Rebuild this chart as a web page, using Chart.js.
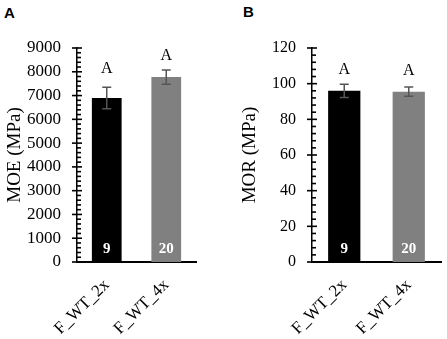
<!DOCTYPE html>
<html>
<head>
<meta charset="utf-8">
<script src="https://cdn.jsdelivr.net/npm/chart.js@4.4.1/dist/chart.umd.min.js"></script>
<style>
  html, body { margin: 0; padding: 0; background: #fff; }
  body { width: 447px; height: 339px; position: relative; overflow: hidden; }
  canvas { position: absolute; top: 0; }
  .panel { position: absolute; font-family: "Liberation Sans", Arial, sans-serif; font-weight: bold; font-size: 15px; color: #000; }
</style>
</head>
<body>
<div class="panel" style="left:4px; top:4px;">A</div>
<div class="panel" style="left:243px; top:3px;">B</div>
<canvas id="cA" width="224" height="339" style="left:0; width:224px; height:339px;"></canvas>
<canvas id="cB" width="223" height="339" style="left:224px; width:223px; height:339px;"></canvas>
<script>
// ---- data ----
const categories = ['F_WT_2x', 'F_WT_4x'];
const barColors = ['#000000', '#808080'];
const sampleSizes = ['9', '20'];
const groupLetters = ['A', 'A'];

const moeValues = [6900, 7780];
const moeErrors = [450, 300];
const moeTicks = { min: 0, max: 9000, major: 1000, minor: 200 };

const morValues = [96, 95.5];
const morErrors = [3.7, 2.6];
const morTicks = { min: 0, max: 120, major: 20, minor: 4 };

const SERIF = '"Liberation Serif", "Times New Roman", serif';

function makeChart(canvasId, values, errors, tickDef, yTitle, cfg) {
  const annotPlugin = {
    id: 'annot',
    afterDraw(chart) {
      const ctx = chart.ctx;
      const ys = chart.scales.y;
      const meta = chart.getDatasetMeta(0);
      ctx.save();
      // axis ticks: major cross the axis, minor point inward
      const xAxis = chart.chartArea.left;
      ctx.strokeStyle = '#000';
      ctx.lineWidth = 1.6;
      const nSteps = Math.round((tickDef.max - tickDef.min) / tickDef.minor);
      for (let i = 0; i <= nSteps; i++) {
        const v = tickDef.min + i * tickDef.minor;
        const py = ys.getPixelForValue(v);
        const isMajor = Math.abs((v / tickDef.major) - Math.round(v / tickDef.major)) < 1e-6;
        ctx.beginPath();
        if (isMajor) {
          ctx.moveTo(xAxis - 5, py); ctx.lineTo(xAxis + 5, py);
        } else {
          ctx.moveTo(xAxis, py); ctx.lineTo(xAxis + 4, py);
        }
        ctx.stroke();
      }
      // error bars, group letters, sample sizes
      meta.data.forEach((bar, i) => {
        const x = bar.x;
        const yTop = ys.getPixelForValue(values[i] + errors[i]);
        const yBot = ys.getPixelForValue(values[i] - errors[i]);
        ctx.strokeStyle = '#555';
        ctx.lineWidth = 1.5;
        ctx.beginPath();
        ctx.moveTo(x, yTop); ctx.lineTo(x, yBot);
        ctx.moveTo(x - 4.5, yTop); ctx.lineTo(x + 4.5, yTop);
        ctx.moveTo(x - 4.5, yBot); ctx.lineTo(x + 4.5, yBot);
        ctx.stroke();

        ctx.fillStyle = '#000';
        ctx.font = '16px ' + SERIF;
        ctx.textAlign = 'center';
        ctx.textBaseline = 'alphabetic';
        ctx.fillText(groupLetters[i], x, yTop - cfg.letterGap[i]);

        ctx.fillStyle = '#fff';
        ctx.font = 'bold 15px ' + SERIF;
        ctx.fillText(sampleSizes[i], x, ys.getPixelForValue(0) - 9);
      });
      ctx.restore();
    }
  };

  return new Chart(document.getElementById(canvasId), {
    type: 'bar',
    data: {
      labels: categories,
      datasets: [{
        data: values,
        backgroundColor: barColors,
        borderWidth: 0,
        barPercentage: 0.5,
        categoryPercentage: 1.0
      }]
    },
    options: {
      responsive: false,
      animation: false,
      devicePixelRatio: 1,
      layout: { padding: { left: 0, right: cfg.padRight, top: 48, bottom: 0 } },
      plugins: { legend: { display: false }, tooltip: { enabled: false } },
      scales: {
        x: {
          offset: true,
          grid: { display: false, drawTicks: false },
          border: { display: true, color: '#000', width: 2 },
          ticks: {
            color: '#000',
            font: { family: SERIF, size: 17 },
            minRotation: 45, maxRotation: 45,
            padding: cfg.xPad
          },
          afterFit(scale) { scale.height = 77; }
        },
        y: {
          min: tickDef.min, max: tickDef.max,
          grid: { display: false, drawTicks: false },
          border: { display: true, color: '#000', width: 1.5 },
          ticks: {
            stepSize: tickDef.major,
            color: '#000',
            font: { family: SERIF, size: cfg.tickSize },
            padding: 16,
            callback: (v) => String(v)
          },
          title: {
            display: true, text: yTitle, color: '#000',
            font: { family: SERIF, size: 19 },
            padding: { top: cfg.titlePad, bottom: 0 }
          },
          afterFit(scale) { scale.width = cfg.yWidth; }
        }
      }
    },
    plugins: [annotPlugin]
  });
}

makeChart('cA', moeValues, moeErrors, moeTicks, 'MOE (MPa)',
  { padRight: 28, yWidth: 77, tickSize: 17, titlePad: 4, xPad: 13, letterGap: [14, 10] });
makeChart('cB', morValues, morErrors, morTicks, 'MOR (MPa)',
  { padRight: 6, yWidth: 88, tickSize: 16, titlePad: 15, xPad: 13, letterGap: [10, 12] });
</script>
</body>
</html>
